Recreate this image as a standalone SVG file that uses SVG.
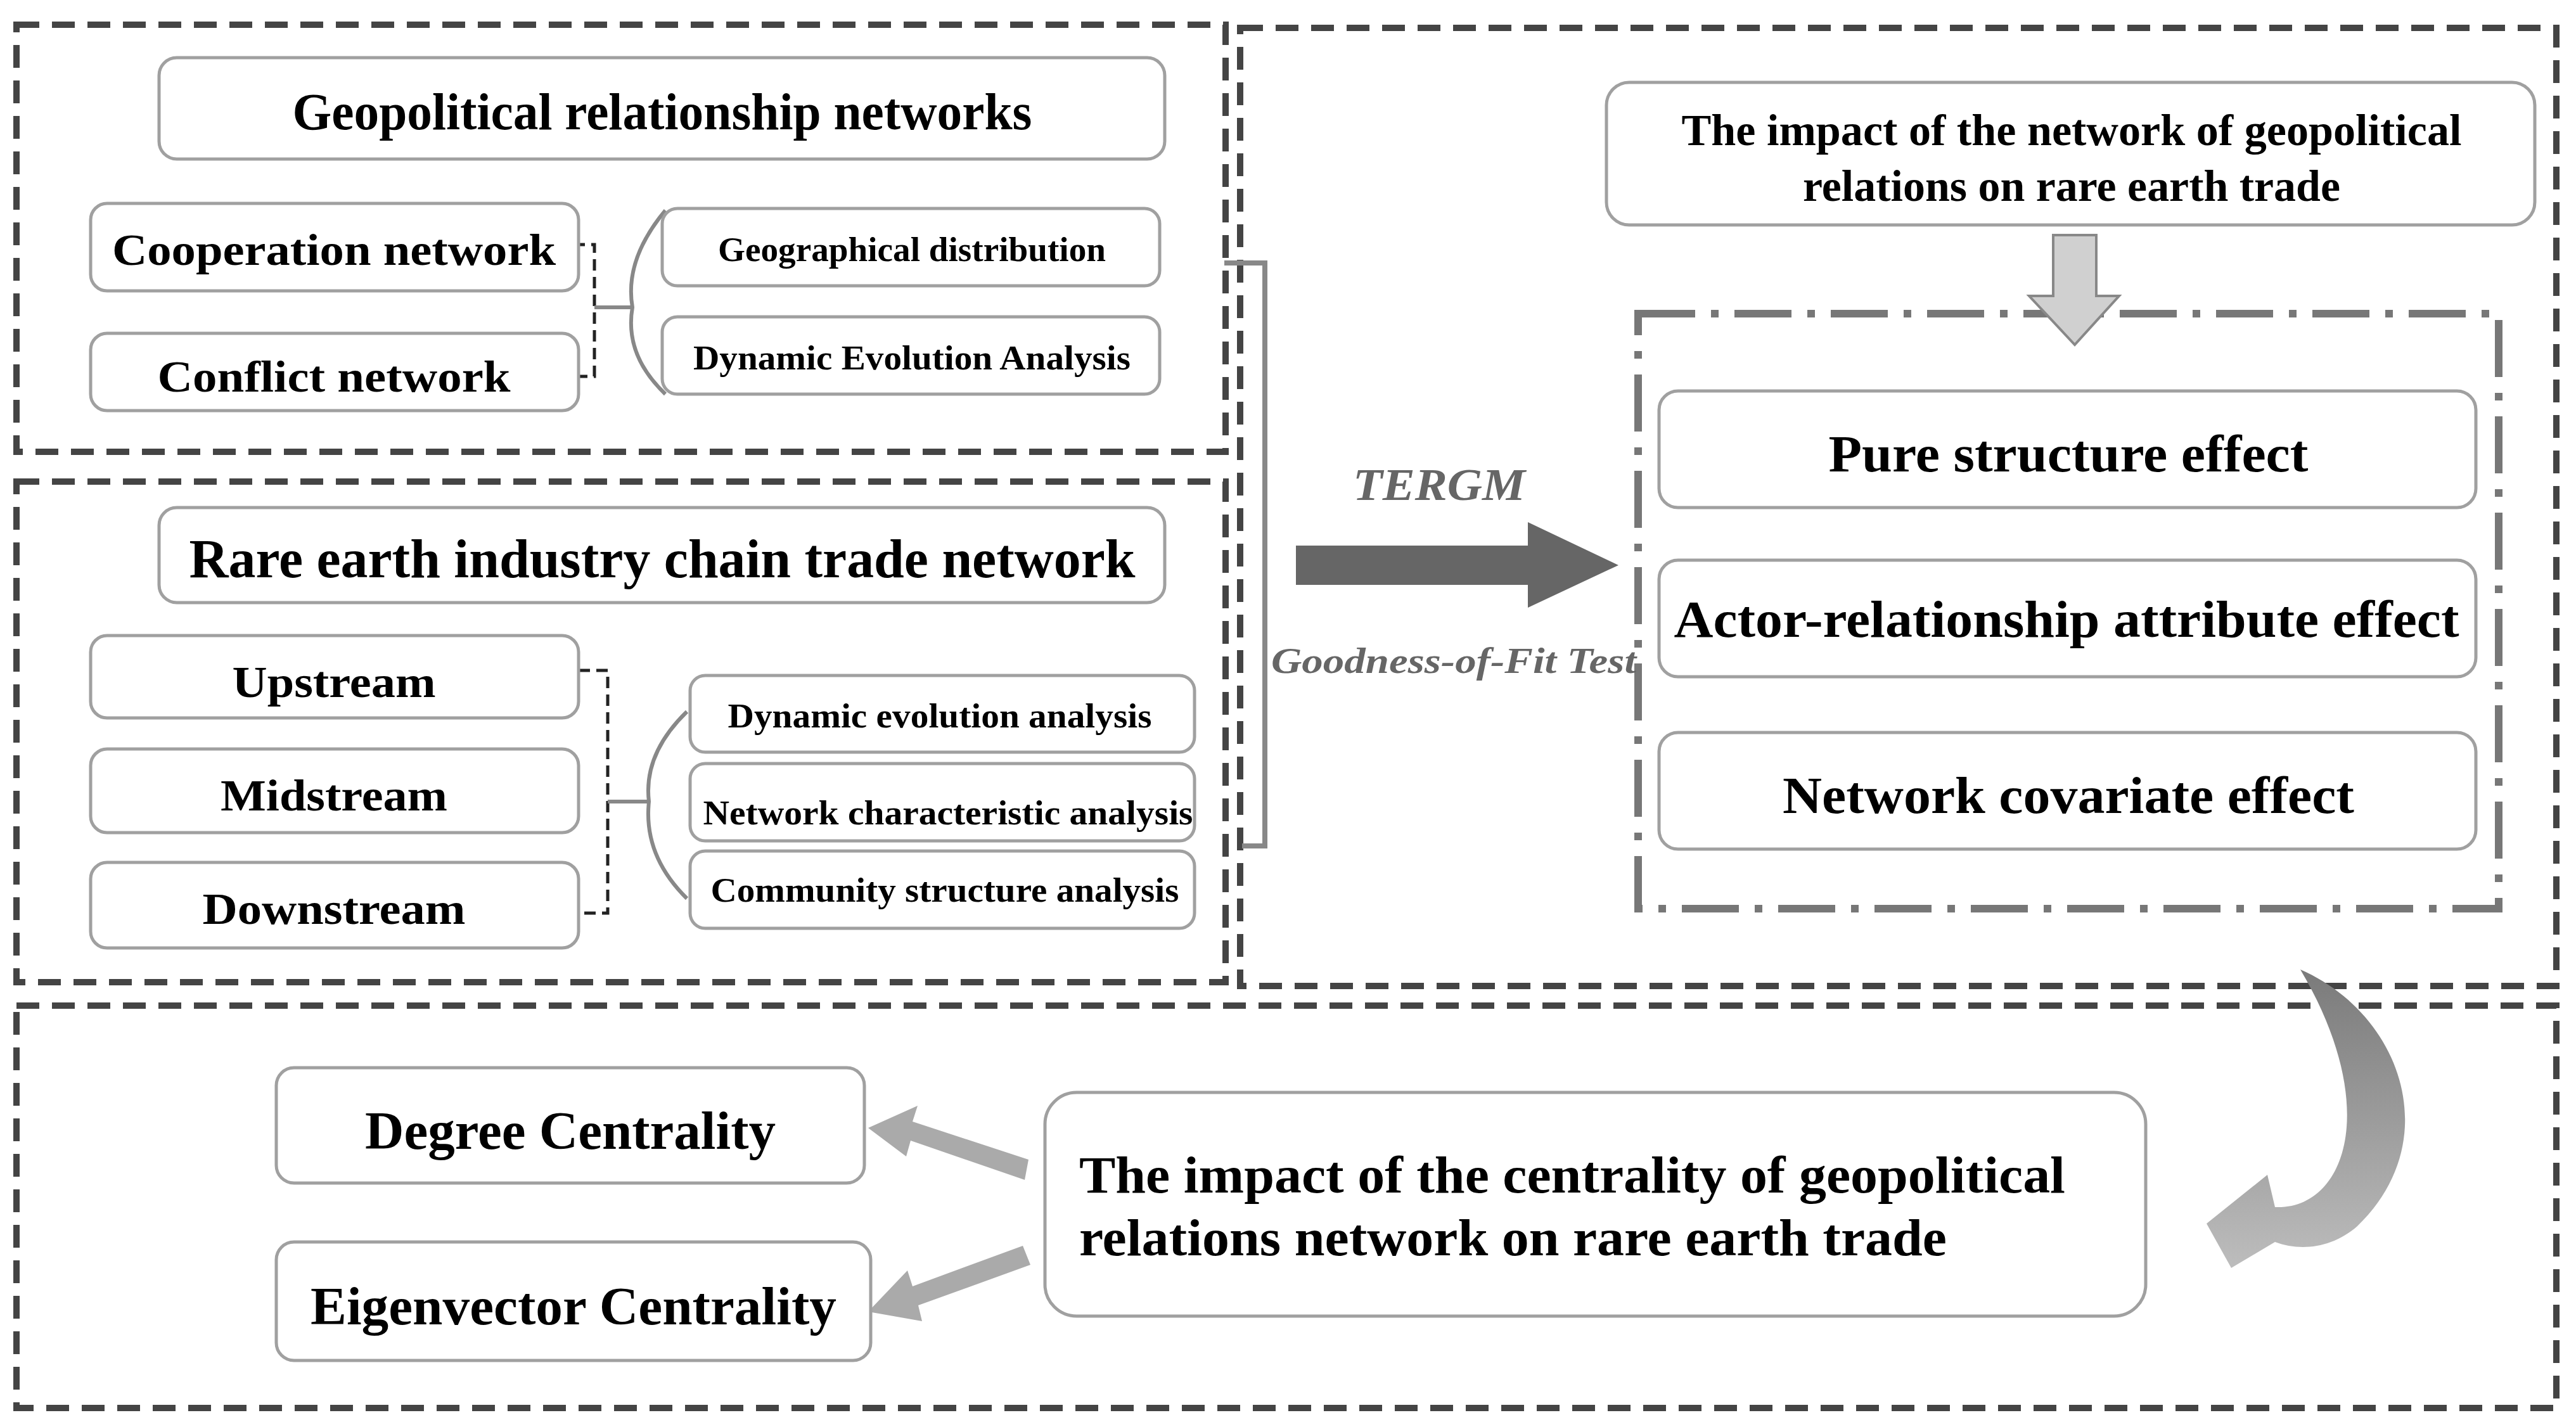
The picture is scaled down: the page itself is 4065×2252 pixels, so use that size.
<svg xmlns="http://www.w3.org/2000/svg" width="4065" height="2252" viewBox="0 0 4065 2252">
<defs>
<style>
.frame{fill:none;stroke:#444;stroke-width:10;stroke-dasharray:36 20}
.node{fill:#fff;stroke:#a0a0a0;stroke-width:5}
.t{font-family:"Liberation Serif","Times New Roman",serif;font-weight:bold;fill:#000;text-anchor:middle;dominant-baseline:central}
.tl{font-family:"Liberation Serif","Times New Roman",serif;font-weight:bold;fill:#000}
.g{font-family:"Liberation Serif","Times New Roman",serif;font-weight:bold;font-style:italic;fill:#666;text-anchor:middle;dominant-baseline:central}
.dl{fill:none;stroke:#222;stroke-width:5;stroke-dasharray:18 10}
.br{fill:none;stroke:#888;stroke-width:6}
</style>
<linearGradient id="cg" x1="0" y1="0" x2="0" y2="1"><stop offset="0" stop-color="#7a7a7a"/><stop offset="1" stop-color="#bdbdbd"/></linearGradient>
</defs>
<rect width="4065" height="2252" fill="#fff"/>
<g id="frames">
<rect class="frame" x="26" y="39" width="1908" height="674"/>
<rect class="frame" x="26" y="760" width="1908" height="790"/>
<rect class="frame" x="1957" y="44" width="2077" height="1512"/>
<rect class="frame" x="26" y="1587" width="4008" height="635"/>
<rect x="2585" y="495" width="1358" height="939" fill="none" stroke="#777" stroke-width="12" stroke-dasharray="90 25 12 25"/>
</g>
<g id="connectors">
<path class="dl" d="M905 386H938V594H905"/>
<path class="br" d="M938 485H998"/>
<path class="br" d="M1050 332Q985 410 998 485Q985 560 1050 622"/>
<path class="dl" d="M913 1058H959V1441H913"/>
<path class="br" d="M959 1265H1024"/>
<path class="br" d="M1084 1123Q1015 1190 1024 1265Q1015 1350 1084 1418"/>
<path d="M1932 415H1996V1335H1960" fill="none" stroke="#888" stroke-width="8"/>
<path d="M2045 861H2411V824L2554 892L2411 959V923H2045Z" fill="#666"/>
<path d="M3240 371H3308V467H3344L3274 544L3202 467H3240Z" fill="#d0d0d0" stroke="#888" stroke-width="4"/>
<path d="M1623 1830L1440 1770L1448 1745L1370 1780L1430 1825L1437 1800L1617 1862Z" fill="#aaa"/>
<path d="M1614 1966L1440 2030L1432 2005L1370 2070L1455 2085L1449 2060L1626 1996Z" fill="#aaa"/>
<path d="M3630 1530C3790 1600 3860 1800 3720 1935C3680 1970 3630 1975 3590 1960L3521 2001L3482 1931L3578 1854L3590 1905C3700 1910 3760 1750 3630 1530Z" fill="url(#cg)"/>
<text class="g" x="2271" y="765" font-size="72" textLength="272" lengthAdjust="spacingAndGlyphs">TERGM</text>
<text class="g" x="2294" y="1042" font-size="57" textLength="576" lengthAdjust="spacingAndGlyphs">Goodness-of-Fit Test</text>
</g>
<g id="n1"><rect class="node" x="251" y="91" width="1587" height="160" rx="28"/><text class="t" x="1045" y="176" font-size="82" textLength="1167" lengthAdjust="spacingAndGlyphs">Geopolitical relationship networks</text></g>
<g id="n2"><rect class="node" x="143" y="321" width="770" height="138" rx="26"/><text class="t" x="527" y="394" font-size="70" textLength="700" lengthAdjust="spacingAndGlyphs">Cooperation network</text></g>
<g id="n3"><rect class="node" x="143" y="526" width="770" height="122" rx="26"/><text class="t" x="527" y="594" font-size="70" textLength="557" lengthAdjust="spacingAndGlyphs">Conflict network</text></g>
<g id="n4"><rect class="node" x="1045" y="329" width="785" height="122" rx="24"/><text class="t" x="1439" y="394" font-size="54" textLength="612" lengthAdjust="spacingAndGlyphs">Geographical distribution</text></g>
<g id="n5"><rect class="node" x="1045" y="500" width="785" height="122" rx="24"/><text class="t" x="1439" y="565" font-size="54" textLength="690" lengthAdjust="spacingAndGlyphs">Dynamic Evolution Analysis</text></g>
<g id="n6"><rect class="node" x="251" y="801" width="1587" height="150" rx="28"/><text class="t" x="1045" y="882" font-size="86" textLength="1493" lengthAdjust="spacingAndGlyphs">Rare earth industry chain trade network</text></g>
<g id="n7"><rect class="node" x="143" y="1003" width="770" height="130" rx="26"/><text class="t" x="527" y="1076" font-size="70" textLength="321" lengthAdjust="spacingAndGlyphs">Upstream</text></g>
<g id="n8"><rect class="node" x="143" y="1182" width="770" height="132" rx="26"/><text class="t" x="527" y="1255" font-size="70" textLength="358" lengthAdjust="spacingAndGlyphs">Midstream</text></g>
<g id="n9"><rect class="node" x="143" y="1361" width="770" height="135" rx="26"/><text class="t" x="527" y="1434" font-size="70" textLength="415" lengthAdjust="spacingAndGlyphs">Downstream</text></g>
<g id="n10"><rect class="node" x="1089" y="1066" width="796" height="121" rx="24"/><text class="t" x="1483" y="1130" font-size="54" textLength="669" lengthAdjust="spacingAndGlyphs">Dynamic evolution analysis</text></g>
<g id="n11"><rect class="node" x="1089" y="1205" width="796" height="122" rx="24"/><text class="t" x="1496" y="1283" font-size="54" textLength="773" lengthAdjust="spacingAndGlyphs">Network characteristic analysis</text></g>
<g id="n12"><rect class="node" x="1089" y="1343" width="796" height="122" rx="24"/><text class="t" x="1491" y="1405" font-size="54" textLength="739" lengthAdjust="spacingAndGlyphs">Community structure analysis</text></g>
<g id="n13"><rect class="node" x="2535" y="130" width="1465" height="225" rx="36"/><text class="t" x="3269" y="205" font-size="70" textLength="1231" lengthAdjust="spacingAndGlyphs">The impact of the network of geopolitical</text><text class="t" x="3269" y="293" font-size="70" textLength="848" lengthAdjust="spacingAndGlyphs">relations on rare earth trade</text></g>
<g id="n14"><rect class="node" x="2618" y="617" width="1289" height="184" rx="30"/><text class="t" x="3264" y="716" font-size="82" textLength="757" lengthAdjust="spacingAndGlyphs">Pure structure effect</text></g>
<g id="n15"><rect class="node" x="2618" y="884" width="1289" height="184" rx="30"/><text class="t" x="3261" y="977" font-size="82" textLength="1239" lengthAdjust="spacingAndGlyphs">Actor-relationship attribute effect</text></g>
<g id="n16"><rect class="node" x="2618" y="1156" width="1289" height="184" rx="30"/><text class="t" x="3264" y="1255" font-size="82" textLength="902" lengthAdjust="spacingAndGlyphs">Network covariate effect</text></g>
<g id="n17"><rect class="node" x="436" y="1685" width="928" height="182" rx="28"/><text class="t" x="900" y="1784" font-size="84" textLength="648" lengthAdjust="spacingAndGlyphs">Degree Centrality</text></g>
<g id="n18"><rect class="node" x="436" y="1960" width="938" height="187" rx="28"/><text class="t" x="905" y="2061" font-size="84" textLength="830" lengthAdjust="spacingAndGlyphs">Eigenvector Centrality</text></g>
<g id="n19"><rect class="node" x="1649" y="1724" width="1737" height="353" rx="50"/><text class="tl" x="1703" y="1882" font-size="82" textLength="1556" lengthAdjust="spacingAndGlyphs">The impact of the centrality of geopolitical</text><text class="tl" x="1703" y="1981" font-size="82" textLength="1369" lengthAdjust="spacingAndGlyphs">relations network on rare earth trade</text></g>
</svg>
